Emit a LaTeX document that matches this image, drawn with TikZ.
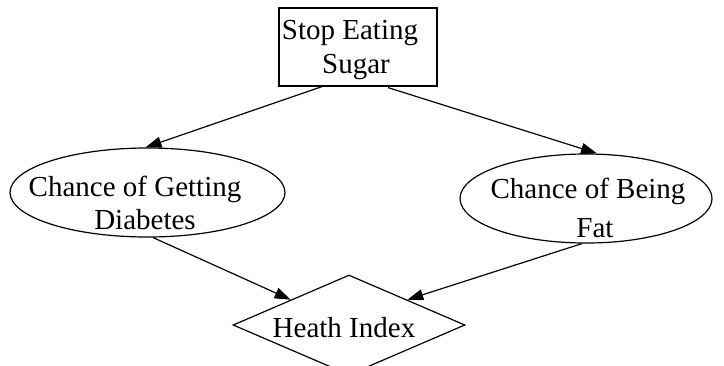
\documentclass[tikz,border=0pt]{standalone}
\usepackage{fontspec}
\setmainfont{Liberation Serif}
\usetikzlibrary{shapes.geometric,arrows.meta,calc}
\begin{document}
\begin{tikzpicture}[x=0.5pt,y=-0.5pt,
  outline/.style={draw=black,line width=0.6pt,inner sep=0pt},
  label/.style={anchor=base,inner sep=0pt,font=\fontsize{14.5}{16}\selectfont},
  link/.style={draw=black,line width=0.6pt,-{Triangle[length=8pt,width=5.5pt]}}]
\useasboundingbox (0,0) rectangle (724,365);
\clip (0,0) rectangle (724,365);
% shapes
\node[outline,rectangle,minimum width=79pt,minimum height=39pt] (stop) at (358,47) {};
\node[outline,ellipse,minimum width=137.5pt,minimum height=44.5pt] (diab) at (147.5,192.5) {};
\node[outline,ellipse,minimum width=126pt,minimum height=44.5pt] (fat) at (586,198.5) {};
\node[outline,diamond,minimum width=116pt,minimum height=50pt] (heath) at (349,325) {};
% labels
\node[label] (t1) at (350,39) {Stop Eating};
\node[label] (t2) at (356,73) {Sugar};
\node[label] (t3) at (135,196) {Chance of Getting};
\node[label] (t4) at (145,229) {Diabetes};
\node[label] (t5) at (588,198) {Chance of Being};
\node[label] (t6) at (595,237) {Fat};
\node[label] (t7) at (344,337) {Heath Index};
% connectors
\draw[link] ($(stop.south)+(-36,0)$) -- ($(diab.north)+(-2,0)$);
\draw[link] ($(stop.south)+(30,1)$) -- ($(fat.north)+(11,0)$);
\draw[link] (diab.-83) -- (heath.north west);
\draw[link] (fat.-95) -- (heath.north east);
\end{tikzpicture}
\end{document}
